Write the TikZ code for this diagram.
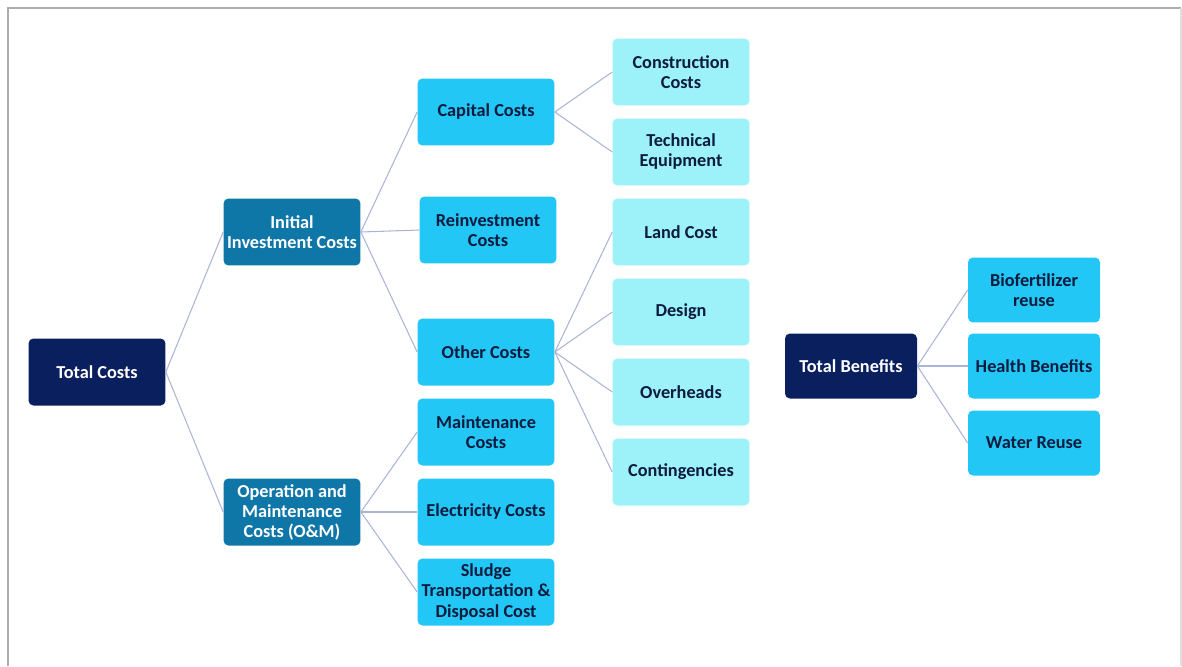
\documentclass[tikz,border=0pt]{standalone}
\usepackage{fontspec}
\setmainfont{Carlito}
\definecolor{navybox}{HTML}{0A1F5E}
\definecolor{tealbox}{HTML}{0F76A8}
\definecolor{cyanbox}{HTML}{22C7F5}
\definecolor{paleboxfill}{HTML}{9CF2F8}
\definecolor{inktext}{HTML}{0D1B3E}
\definecolor{linkgray}{HTML}{A9B4D8}

\begin{document}
\begin{tikzpicture}[x=0.02cm, y=-0.02cm,
    box/.style={rounded corners=2.8pt, minimum width=2.74cm, minimum height=1.34cm,
        align=center, inner sep=1pt, font=\fontsize{10.4}{11.4}\selectfont\bfseries},
    rootbox/.style={box, fill=navybox, text=white},
    midbox/.style={box, fill=tealbox, text=white},
    subbox/.style={box, fill=cyanbox, text=inktext},
    leafbox/.style={box, fill=paleboxfill, text=inktext},
    link/.style={draw=linkgray, line width=0.6pt}]
    \useasboundingbox (0,0) rectangle (1182,666);
    % Frame
    \draw[gray!65, line width=1.2pt] (8,666) -- (8,8) -- (1181,8);
    \draw[gray!25, line width=0.8pt] (1181,8) -- (1181,666);

    % Cost tree
    \node[rootbox] (tc) at (97,372) {Total Costs};
    \node[midbox] (ic) at (292,232) {Initial\\Investment Costs};
    \node[midbox] (om) at (292,512) {Operation and\\Maintenance\\Costs (O\&M)};
    \node[subbox] (cap) at (486,112) {Capital Costs};
    \node[subbox] (rei) at (488,230) {Reinvestment\\Costs};
    \node[subbox] (oth) at (486,352) {Other Costs};
    \node[subbox] (mai) at (486,432) {Maintenance\\Costs};
    \node[subbox] (ele) at (486,512) {Electricity Costs};
    \node[subbox] (slu) at (486,592) {Sludge\\Transportation \&\\Disposal Cost};
    \node[leafbox] (con) at (681,72) {Construction\\Costs};
    \node[leafbox] (tec) at (681,152) {Technical\\Equipment};
    \node[leafbox] (lan) at (681,232) {Land Cost};
    \node[leafbox] (des) at (681,312) {Design};
    \node[leafbox] (ove) at (681,392) {Overheads};
    \node[leafbox] (cont) at (681,472) {Contingencies};

    % Benefit tree
    \node[rootbox, minimum width=2.64cm, minimum height=1.3cm] (tb) at (851,366) {Total Benefits};
    \node[subbox, minimum width=2.64cm, minimum height=1.3cm] (bio) at (1034,290) {Biofertilizer\\reuse};
    \node[subbox, minimum width=2.64cm, minimum height=1.3cm] (hea) at (1034,366) {Health Benefits};
    \node[subbox, minimum width=2.64cm, minimum height=1.3cm] (wat) at (1034,443) {Water Reuse};

    % Connect nodes
    \draw[link] (tc.east) -- (ic.west);
    \draw[link] (tc.east) -- (om.west);

    \draw[link] (ic.east) -- (cap.west);
    \draw[link] (ic.east) -- (rei.west);
    \draw[link] (ic.east) -- (oth.west);

    \draw[link] (om.east) -- (mai.west);
    \draw[link] (om.east) -- (ele.west);
    \draw[link] (om.east) -- (slu.west);

    \draw[link] (cap.east) -- (con.west);
    \draw[link] (cap.east) -- (tec.west);

    \draw[link] (oth.east) -- (lan.west);
    \draw[link] (oth.east) -- (des.west);
    \draw[link] (oth.east) -- (ove.west);
    \draw[link] (oth.east) -- (cont.west);

    \draw[link] (tb.east) -- (bio.west);
    \draw[link] (tb.east) -- (hea.west);
    \draw[link] (tb.east) -- (wat.west);
\end{tikzpicture}
\end{document}
